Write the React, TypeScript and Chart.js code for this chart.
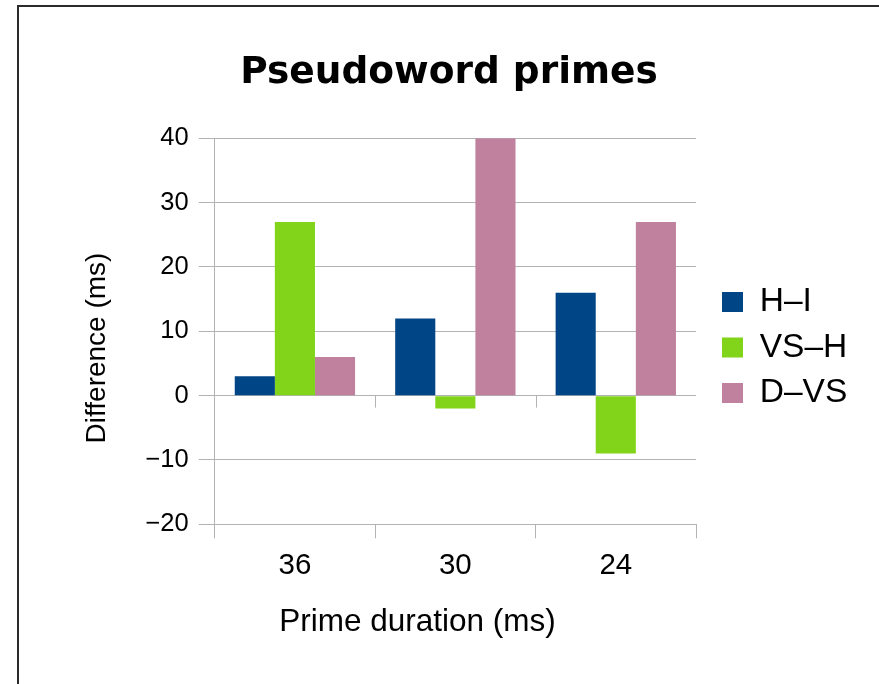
import React, { useEffect, useRef } from 'react';
import { Chart, registerables } from 'chart.js';

Chart.register(...registerables);

// ---- data ----
const categories = ['36', '30', '24'];
const seriesNames = ['H–I', 'VS–H', 'D–VS'];
const hiValues = [3, 12, 16];
const vshValues = [27, -2, -9];
const dvsValues = [6, 40, 27];
const seriesColors = ['#004586', '#81d41a', '#bf819e'];
const yMin = -20;
const yMax = 40;
const yStep = 10;
const chartTitle = 'Pseudoword primes';
const xTitle = 'Prime duration (ms)';
const yTitle = 'Difference (ms)';

// ---- layout ----
const W = 879;
const H = 684;
const PLOT_LEFT = 214.7;
const PLOT_RIGHT = 696;
const PLOT_TOP = 138.3;
const PLOT_BOTTOM = 524.3;
const LEGEND_BOX_X = 722;
const LEGEND_PAD = 12;
const TITLE_CX = 449;
const XTITLE_CX = 417.5;
const XTITLE_BASE = 631;
const YTITLE_CY = 348;
const YTITLE_BASE = 105;
const GRID = '#b3b3b3';
const FONT = '"Liberation Sans", Arial, sans-serif';
const TITLE_FONT = '"DejaVu Sans", "Liberation Sans", sans-serif';
const TITLE_PAD_TOP = 51;

const zeroTicks = {
  id: 'zeroTicks',
  beforeDatasetsDraw(chart: any) {
    const xs = chart.scales.x;
    const ys = chart.scales.y;
    const y0 = ys.getPixelForValue(0);
    const n = xs.ticks.length;
    const step = (xs.right - xs.left) / n;
    const ctx = chart.ctx;
    ctx.save();
    ctx.strokeStyle = GRID;
    ctx.lineWidth = 1;
    ctx.beginPath();
    for (let i = 1; i < n; i++) {
      const px = Math.round(xs.left + i * step) + 0.5;
      ctx.moveTo(px, y0);
      ctx.lineTo(px, y0 + 12);
    }
    ctx.stroke();
    ctx.restore();
  },
};

// move the legend a little away from the plot area
const legendGap = {
  id: 'legendGap',
  afterLayout(chart: any) {
    const lg = chart.legend;
    if (!lg) return;
    const shift = LEGEND_BOX_X - LEGEND_PAD - chart.chartArea.right;
    lg.left += shift;
    lg.right += shift;
  },
};

const axisTitles = {
  id: 'axisTitles',
  afterDraw(chart: any) {
    const ctx = chart.ctx;
    ctx.save();
    ctx.fillStyle = '#000';
    ctx.textBaseline = 'alphabetic';
    ctx.textAlign = 'center';
    ctx.font = `31.5px ${FONT}`;
    ctx.fillText(xTitle, XTITLE_CX, XTITLE_BASE);
    ctx.translate(YTITLE_BASE, YTITLE_CY);
    ctx.rotate(-Math.PI / 2);
    ctx.font = `28px ${FONT}`;
    ctx.fillText(yTitle, 0, 0);
    ctx.restore();
  },
};

export default function App() {
  const ref = useRef<HTMLCanvasElement | null>(null);

  useEffect(() => {
    const canvas = ref.current!;
    const data = {
      labels: categories,
      datasets: [hiValues, vshValues, dvsValues].map((vals, i) => ({
        label: seriesNames[i],
        data: vals,
        backgroundColor: seriesColors[i],
        borderWidth: 0,
        categoryPercentage: 0.75,
        barPercentage: 1.0,
      })),
    };

    const chart: any = new Chart(canvas, {
      type: 'bar',
      data,
      plugins: [zeroTicks, legendGap, axisTitles],
      options: {
        animation: false,
        responsive: false,
        devicePixelRatio: 1,
        layout: { padding: { left: 0, right: 0, top: 0, bottom: 0 } },
        plugins: {
          tooltip: { enabled: false },
          title: {
            display: true,
            text: chartTitle,
            color: '#000',
            font: { family: TITLE_FONT, size: 37.5, weight: 'bold', lineHeight: 1.2 },
            padding: { top: TITLE_PAD_TOP, bottom: PLOT_TOP - TITLE_PAD_TOP - 45 },
          },
          legend: {
            display: true,
            position: 'right',
            fullSize: false,
            align: 'center',
            title: { display: true, text: ' ', font: { size: 10 }, padding: { top: 10.2, bottom: 10.2 } },
            labels: {
              boxWidth: 21,
              boxHeight: 20,
              padding: LEGEND_PAD,
              color: '#000',
              font: { family: FONT, size: 33.5 },
            },
          },
        },
        scales: {
          x: {
            type: 'category',
            offset: true,
            grid: {
              offset: true,
              drawOnChartArea: true,
              tickLength: 14,
              color: (c: any) => (c.index === 0 || c.index === categories.length ? GRID : 'rgba(0,0,0,0)'),
              tickColor: GRID,
            },
            border: { display: false },
            ticks: { color: '#000', padding: 10, font: { family: FONT, size: 29.5 } },
            title: { display: false },
            afterFit: (s: any) => {
              const pb = s.chart.options.layout.padding.bottom || 0;
              s.height = H - PLOT_BOTTOM - pb;
            },
          },
          y: {
            type: 'linear',
            position: 'left',
            min: yMin,
            max: yMax,
            grid: { color: GRID, tickLength: 16, tickColor: GRID },
            border: { display: true, color: GRID },
            ticks: {
              stepSize: yStep,
              color: '#000',
              padding: 10,
              font: { family: FONT, size: 25.5 },
              callback: (v: any) => (Number(v) < 0 ? '\u2212' + Math.abs(Number(v)) : String(v)),
            },
            title: { display: false },
            afterFit: (s: any) => {
              const pl = s.chart.options.layout.padding.left || 0;
              s.width = PLOT_LEFT - pl;
            },
          },
        },
      } as any,
    });

    // fit paddings so the plot's right edge and the title centre land where wanted
    let padR = 0;
    for (let k = 0; k < 5; k++) {
      const err = chart.chartArea.right - PLOT_RIGHT;
      if (Math.abs(err) < 0.05) break;
      padR = Math.max(0, padR + err);
      const padL = 2 * TITLE_CX - W + padR;
      chart.options.layout.padding = { left: padL, right: padR, top: 0, bottom: 0 };
      chart.update();
    }

    return () => chart.destroy();
  }, []);

  return (
    <div style={{ position: 'fixed', left: 0, top: 0, width: W, height: H, background: '#fff', overflow: 'hidden' }}>
      <div
        style={{
          position: 'absolute',
          left: 17,
          top: 5,
          width: W,
          height: H,
          borderLeft: '2px solid #2b2b2b',
          borderTop: '2px solid #2b2b2b',
        }}
      />
      <canvas
        ref={ref}
        width={W}
        height={H}
        style={{ position: 'absolute', left: 0, top: 0, width: W, height: H }}
      />
    </div>
  );
}
